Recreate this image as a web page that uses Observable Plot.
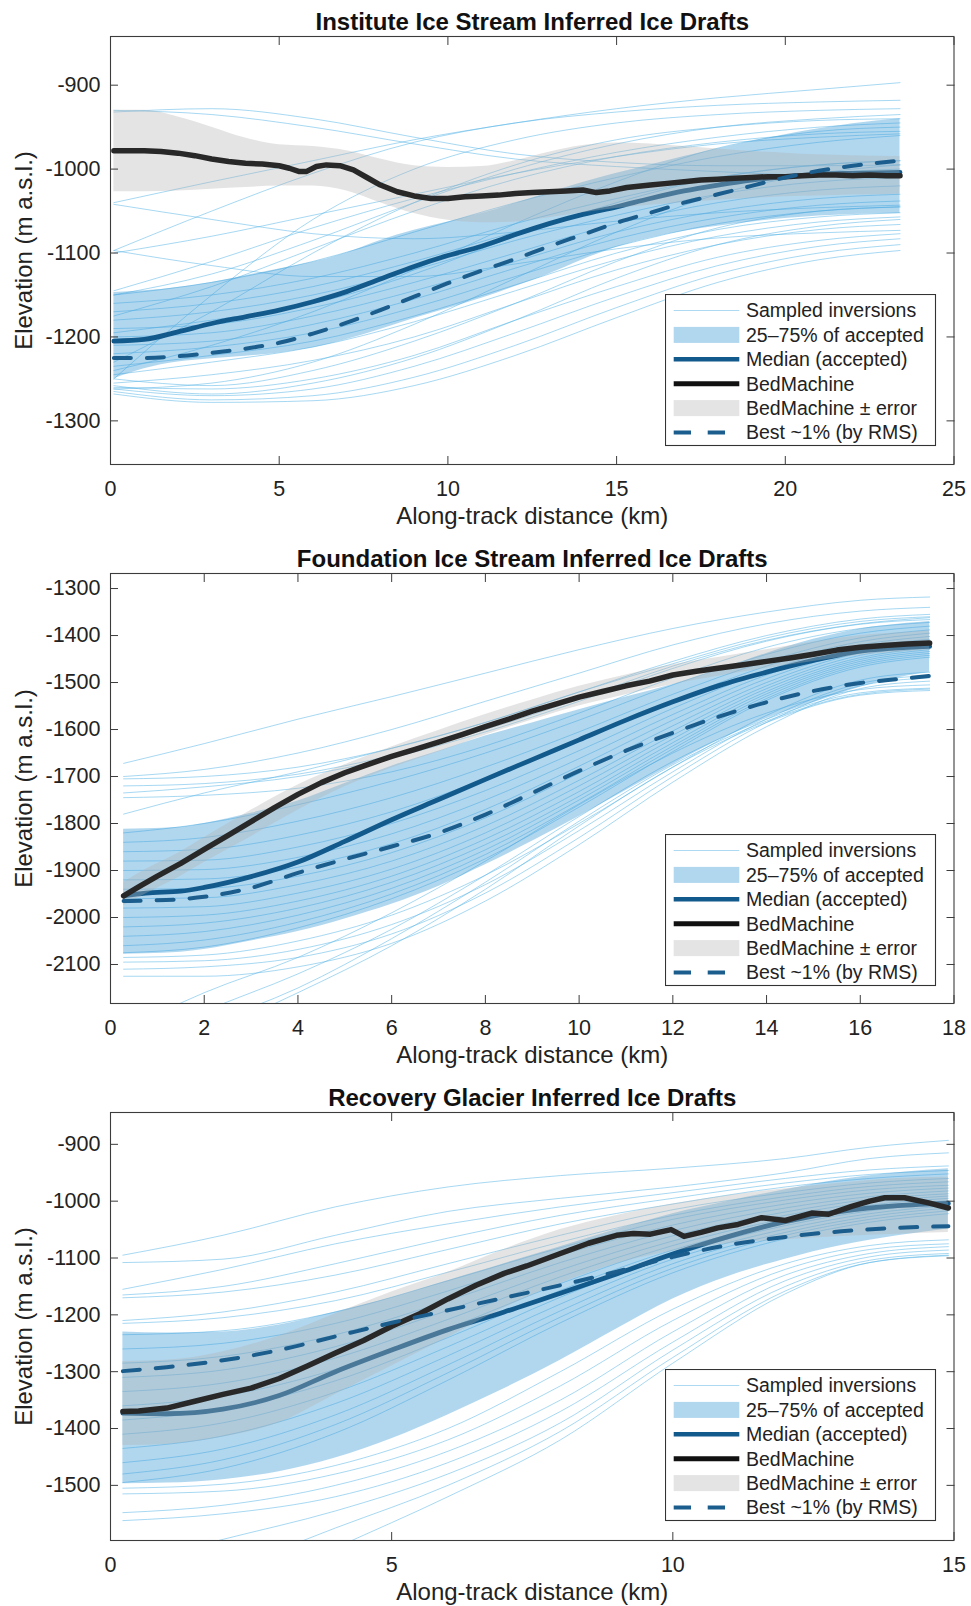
<!DOCTYPE html>
<html><head><meta charset="utf-8">
<script src="https://cdn.jsdelivr.net/npm/d3@7"></script>
<script src="https://cdn.jsdelivr.net/npm/@observablehq/plot@0.6"></script>
<style>
body{margin:0;background:#fff;}
#wrap{position:relative;width:971px;height:1606px;overflow:hidden;background:#fff;}
.panel{position:absolute;left:0;}
.legend{position:absolute;}
svg{display:block}
</style></head><body><div id="wrap"></div>
<script>
// ---------------- Shared text ----------------
const titles = ["Institute Ice Stream Inferred Ice Drafts", "Foundation Ice Stream Inferred Ice Drafts", "Recovery Glacier Inferred Ice Drafts"];
const xLabel = "Along-track distance (km)";
const yLabel = "Elevation (m a.s.l.)";
const legendLabels = ["Sampled inversions", "25\u201375% of accepted", "Median (accepted)", "BedMachine", "BedMachine \u00b1 error", "Best ~1% (by RMS)"];

// ---------------- Institute ----------------
const instXTicks = [0, 5, 10, 15, 20, 25];
const instYTicks = [-1300, -1200, -1100, -1000, -900];
const instSampleX = [0.1, 3, 6, 9, 12, 15, 18, 21, 23.4];
const instSamples = [
  [-930, -935, -950, -970, -988, -997, -1003, -1008, -1010],
  [-932, -928, -940, -962, -982, -992, -996, -996, -995],
  [-1040, -1015, -990, -965, -945, -928, -915, -905, -897],
  [-1042, -1060, -1077, -1083, -1075, -1062, -1052, -1046, -1043],
  [-1097, -1050, -1005, -968, -945, -932, -924, -920, -918],
  [-1097, -1115, -1128, -1128, -1113, -1095, -1082, -1076, -1073],
  [-1100, -1080, -1055, -1030, -1005, -985, -970, -962, -958],
  [-1250, -1150, -1060, -1000, -965, -945, -935, -930, -928],
  [-1230, -1170, -1100, -1040, -995, -965, -950, -942, -940],
  [-1145, -1110, -1070, -1035, -1005, -980, -962, -950, -945],
  [-1150, -1135, -1110, -1075, -1040, -1010, -985, -968, -960],
  [-1160, -1150, -1130, -1100, -1065, -1035, -1010, -995, -990],
  [-1170, -1160, -1140, -1110, -1075, -1045, -1020, -1005, -1000],
  [-1180, -1170, -1150, -1120, -1085, -1055, -1030, -1015, -1010],
  [-1190, -1185, -1165, -1135, -1100, -1065, -1040, -1025, -1020],
  [-1200, -1195, -1175, -1145, -1110, -1075, -1050, -1035, -1030],
  [-1210, -1205, -1185, -1155, -1118, -1083, -1058, -1043, -1038],
  [-1220, -1212, -1195, -1165, -1128, -1092, -1065, -1050, -1045],
  [-1235, -1222, -1205, -1175, -1138, -1100, -1072, -1057, -1052],
  [-1245, -1230, -1212, -1182, -1145, -1108, -1080, -1063, -1057],
  [-1255, -1245, -1228, -1200, -1160, -1120, -1090, -1072, -1066],
  [-1260, -1262, -1250, -1222, -1180, -1140, -1105, -1085, -1077],
  [-1262, -1270, -1262, -1235, -1195, -1152, -1115, -1092, -1083],
  [-1265, -1275, -1270, -1248, -1210, -1165, -1125, -1100, -1090],
  [-1268, -1278, -1276, -1258, -1222, -1177, -1135, -1108, -1097],
  [-1258, -1268, -1255, -1225, -1180, -1130, -1090, -1068, -1060],
  [-1250, -1258, -1240, -1205, -1160, -1110, -1070, -1050, -1045],
  [-1262, -1255, -1230, -1185, -1130, -1075, -1030, -1005, -995],
  [-1240, -1210, -1170, -1120, -1065, -1015, -975, -955, -950],
  [-1150, -1125, -1085, -1040, -1000, -970, -950, -940, -935],
  [-1175, -1140, -1095, -1050, -1012, -985, -968, -958, -955],
  [-1195, -1180, -1160, -1125, -1080, -1040, -1010, -995, -990]
];
const instGridX = [0.1, 1, 2, 3, 4, 5, 6, 7, 8, 9, 10, 11, 12, 13, 14, 15, 16, 17, 18, 19, 20, 21, 22, 23.4];
const instIqrHi = [-1147, -1145, -1141, -1135, -1127, -1119, -1111, -1100, -1085, -1073, -1063, -1053, -1041, -1028, -1016, -1005, -995, -985, -976, -967, -959, -952, -946, -940];
const instIqrLo = [-1250, -1238, -1230, -1226, -1223, -1219, -1213, -1203, -1191, -1178, -1166, -1154, -1140, -1125, -1108, -1093, -1082, -1074, -1068, -1063, -1059, -1056, -1054, -1053];
const instMedian = [-1205, -1203, -1194, -1184, -1176, -1168, -1158, -1146, -1131, -1116, -1103, -1092, -1078, -1065, -1054, -1045, -1035, -1026, -1019, -1013, -1009, -1006, -1005, -1004];
const instBest = [-1225, -1225, -1223, -1219, -1214, -1207, -1196, -1183, -1168, -1152, -1136, -1121, -1107, -1092, -1078, -1064, -1052, -1040, -1030, -1020, -1010, -1002, -996, -990];
const instGrayHi = [-930, -930, -938, -950, -963, -971, -973, -978, -988, -996, -998, -997, -990, -980, -972, -969, -970, -973, -976, -979, -981, -983, -984, -985];
const instGrayLo = [-1027, -1027, -1026, -1024, -1022, -1020, -1020, -1026, -1040, -1053, -1061, -1064, -1063, -1058, -1052, -1047, -1043, -1040, -1037, -1035, -1033, -1032, -1031, -1030];
const instBedX = [0.1, 0.5, 1, 1.5, 2, 2.5, 3, 3.5, 4, 4.5, 5, 5.3, 5.6, 5.8, 6.1, 6.4, 6.8, 7.2, 7.6, 8, 8.5, 9, 9.5, 10, 10.5, 11, 11.5, 12, 12.5, 13, 13.5, 14, 14.4, 14.8, 15.3, 16, 16.5, 17, 17.5, 18, 18.5, 19, 19.5, 20, 20.5, 21, 21.5, 22, 22.5, 23, 23.4];
const instBedY = [-978, -978, -978, -979, -981, -984, -988, -991, -993, -994, -996, -999, -1003, -1003, -997, -995, -996, -1001, -1010, -1019, -1027, -1032, -1035, -1035, -1033, -1032, -1031, -1029, -1028, -1027, -1026, -1025, -1028, -1026, -1022, -1019, -1017, -1015, -1013, -1012, -1011, -1010, -1009, -1009, -1008, -1007, -1007, -1008, -1007, -1008, -1008];

// ---------------- Foundation ----------------
const fndXTicks = [0, 2, 4, 6, 8, 10, 12, 14, 16, 18];
const fndYTicks = [-2100, -2000, -1900, -1800, -1700, -1600, -1500, -1400, -1300];
const fndSampleX = [0.28, 2, 4, 6, 8, 10, 12, 14, 16, 17.48];
const fndSamples = [
  [-1672, -1630, -1578, -1530, -1480, -1430, -1385, -1350, -1325, -1318],
  [-1700, -1685, -1650, -1600, -1540, -1480, -1420, -1375, -1348, -1340],
  [-1705, -1700, -1680, -1640, -1585, -1520, -1455, -1400, -1365, -1355],
  [-1720, -1715, -1695, -1655, -1600, -1535, -1465, -1410, -1375, -1362],
  [-1735, -1722, -1700, -1660, -1605, -1540, -1470, -1412, -1376, -1366],
  [-1780, -1735, -1690, -1640, -1585, -1520, -1460, -1405, -1370, -1360],
  [-1745, -1740, -1725, -1690, -1635, -1565, -1490, -1425, -1385, -1372],
  [-1820, -1800, -1760, -1710, -1650, -1580, -1505, -1440, -1395, -1380],
  [-1840, -1830, -1795, -1745, -1680, -1605, -1525, -1455, -1405, -1388],
  [-1860, -1855, -1825, -1775, -1705, -1625, -1540, -1465, -1413, -1395],
  [-1880, -1878, -1850, -1800, -1730, -1645, -1555, -1475, -1420, -1402],
  [-1900, -1898, -1872, -1822, -1750, -1662, -1568, -1484, -1426, -1408],
  [-1920, -1918, -1893, -1843, -1770, -1678, -1580, -1492, -1432, -1413],
  [-1940, -1938, -1912, -1862, -1788, -1693, -1592, -1500, -1437, -1418],
  [-1960, -1958, -1930, -1880, -1805, -1708, -1603, -1507, -1442, -1422],
  [-1980, -1977, -1948, -1897, -1820, -1720, -1612, -1513, -1447, -1426],
  [-2000, -1995, -1965, -1912, -1833, -1732, -1620, -1519, -1451, -1430],
  [-2020, -2012, -1980, -1925, -1845, -1742, -1628, -1524, -1455, -1434],
  [-2040, -2030, -1995, -1938, -1856, -1750, -1635, -1529, -1459, -1438],
  [-2060, -2048, -2010, -1950, -1866, -1758, -1641, -1534, -1463, -1442],
  [-2075, -2063, -2022, -1960, -1875, -1765, -1647, -1538, -1467, -1446],
  [-2085, -2080, -2050, -1995, -1910, -1800, -1680, -1570, -1495, -1478],
  [-2095, -2092, -2068, -2015, -1930, -1815, -1690, -1578, -1502, -1485],
  [-2110, -2105, -2085, -2035, -1948, -1830, -1700, -1585, -1507, -1490],
  [-2125, -2125, -2105, -2055, -1965, -1845, -1712, -1594, -1513, -1497],
  [-2240, -2160, -2085, -1990, -1880, -1760, -1650, -1565, -1515, -1505],
  [-2280, -2200, -2120, -2025, -1910, -1785, -1668, -1578, -1522, -1512],
  [-2320, -2250, -2160, -2060, -1940, -1805, -1680, -1585, -1527, -1517],
  [-2300, -2230, -2150, -2045, -1925, -1795, -1675, -1582, -1525, -1514]
];
const fndGridX = [0.28, 0.75, 1.5, 2, 3, 4, 5, 6, 7, 8, 9, 10, 11, 12, 13, 14, 15, 16, 17, 17.48];
const fndIqrHi = [-1812, -1811, -1808, -1800, -1778, -1752, -1715, -1678, -1646, -1614, -1586, -1558, -1531, -1504, -1473, -1438, -1408, -1386, -1374, -1370];
const fndIqrLo = [-2078, -2077, -2074, -2068, -2050, -2030, -2003, -1972, -1934, -1888, -1838, -1785, -1730, -1675, -1622, -1577, -1543, -1510, -1486, -1478];
const fndMedian = [-1954, -1948, -1944, -1936, -1913, -1882, -1838, -1792, -1749, -1706, -1664, -1622, -1580, -1541, -1506, -1478, -1453, -1433, -1425, -1423];
const fndBest = [-1965, -1964, -1961, -1956, -1937, -1905, -1876, -1849, -1820, -1781, -1735, -1688, -1645, -1607, -1572, -1542, -1518, -1501, -1491, -1486];
const fndGrayHi = [-1925, -1898, -1860, -1830, -1772, -1718, -1675, -1637, -1602, -1568, -1537, -1508, -1484, -1462, -1446, -1430, -1414, -1400, -1393, -1390];
const fndGrayLo = [-1975, -1950, -1912, -1883, -1828, -1772, -1722, -1682, -1648, -1612, -1580, -1550, -1526, -1504, -1486, -1470, -1455, -1442, -1434, -1431];
const fndBedX = [0.28, 0.6, 1, 1.5, 2, 2.5, 3, 3.5, 4, 4.5, 5, 5.5, 6, 6.5, 7, 7.5, 8, 8.5, 9, 9.5, 10, 10.5, 11, 11.5, 12, 12.5, 13, 13.5, 14, 14.5, 15, 15.5, 16, 16.5, 17, 17.48];
const fndBedY = [-1954, -1935, -1912, -1885, -1855, -1826, -1796, -1766, -1738, -1713, -1692, -1674, -1657, -1642, -1627, -1611, -1594, -1578, -1561, -1546, -1531, -1519, -1507, -1497, -1484, -1476, -1469, -1462, -1455, -1448, -1440, -1431, -1425, -1421, -1418, -1416];

// ---------------- Recovery ----------------
const recXTicks = [0, 5, 10, 15];
const recYTicks = [-1500, -1400, -1300, -1200, -1100, -1000, -900];
const recSampleX = [0.22, 2, 4, 6, 8, 10, 12, 13.5, 14.9];
const recSamples = [
  [-1095, -1060, -1010, -975, -955, -942, -925, -905, -893],
  [-1108, -1102, -1060, -1018, -995, -975, -950, -925, -915],
  [-1155, -1120, -1075, -1040, -1010, -985, -960, -945, -938],
  [-1165, -1150, -1110, -1065, -1025, -995, -968, -953, -946],
  [-1170, -1160, -1130, -1085, -1040, -1005, -975, -960, -952],
  [-1210, -1195, -1160, -1110, -1060, -1015, -985, -968, -960],
  [-1215, -1205, -1175, -1125, -1072, -1025, -992, -974, -966],
  [-1235, -1228, -1195, -1140, -1082, -1032, -998, -980, -972],
  [-1260, -1250, -1215, -1158, -1095, -1042, -1005, -986, -977],
  [-1285, -1273, -1235, -1175, -1108, -1052, -1012, -992, -982],
  [-1310, -1297, -1256, -1192, -1121, -1061, -1019, -997, -987],
  [-1335, -1320, -1276, -1208, -1133, -1070, -1025, -1002, -991],
  [-1360, -1343, -1296, -1224, -1145, -1078, -1031, -1007, -995],
  [-1385, -1366, -1316, -1240, -1157, -1086, -1037, -1012, -999],
  [-1410, -1390, -1336, -1256, -1169, -1094, -1043, -1017, -1003],
  [-1435, -1413, -1356, -1272, -1181, -1102, -1049, -1022, -1008],
  [-1460, -1436, -1376, -1288, -1193, -1110, -1055, -1027, -1012],
  [-1480, -1455, -1393, -1302, -1204, -1118, -1060, -1032, -1017],
  [-1495, -1470, -1408, -1315, -1214, -1126, -1066, -1037, -1022],
  [-1505, -1498, -1465, -1400, -1300, -1190, -1110, -1078, -1068],
  [-1515, -1510, -1480, -1420, -1325, -1210, -1120, -1085, -1075],
  [-1548, -1535, -1500, -1440, -1350, -1230, -1130, -1092, -1080],
  [-1562, -1550, -1520, -1460, -1370, -1248, -1140, -1098, -1086],
  [-1640, -1595, -1545, -1480, -1390, -1262, -1150, -1104, -1092],
  [-1700, -1650, -1575, -1500, -1405, -1275, -1158, -1108, -1096],
  [-1770, -1700, -1610, -1520, -1420, -1285, -1163, -1108, -1095]
];
const recGridX = [0.22, 1, 2, 3, 4, 5, 6, 7, 8, 9, 10, 11, 12, 13, 14, 14.9];
const recIqrHi = [-1230, -1232, -1230, -1218, -1195, -1170, -1140, -1110, -1080, -1050, -1022, -1000, -980, -962, -950, -943];
const recIqrLo = [-1497, -1496, -1490, -1476, -1452, -1418, -1376, -1330, -1280, -1225, -1172, -1132, -1102, -1078, -1061, -1049];
const recMedian = [-1373, -1374, -1366, -1342, -1300, -1262, -1226, -1195, -1162, -1128, -1093, -1062, -1036, -1018, -1008, -1004];
const recBest = [-1299, -1292, -1280, -1262, -1238, -1214, -1192, -1170, -1148, -1124, -1098, -1077, -1063, -1053, -1047, -1044];
const recGrayHi = [-1282, -1280, -1265, -1237, -1198, -1160, -1125, -1085, -1050, -1025, -1005, -990, -978, -968, -960, -958];
const recGrayLo = [-1430, -1428, -1415, -1390, -1340, -1290, -1240, -1188, -1145, -1110, -1088, -1075, -1068, -1062, -1058, -1055];
const recBedX = [0.22, 0.5, 1, 1.5, 2, 2.5, 3, 3.5, 4, 4.5, 5, 5.5, 6, 6.5, 7, 7.4, 8, 8.5, 9, 9.3, 9.6, 9.97, 10.2, 10.5, 10.8, 11.16, 11.58, 12, 12.47, 12.77, 13.18, 13.5, 13.77, 14.12, 14.55, 14.9];
const recBedY = [-1370, -1369, -1364, -1352, -1340, -1329, -1312, -1290, -1267, -1245, -1220, -1198, -1172, -1148, -1127, -1114, -1092, -1074, -1060, -1057, -1058, -1050, -1062, -1055, -1047, -1041, -1029, -1034, -1021, -1023, -1009, -1000, -994, -994, -1003, -1012];

// ---------------- Styling ----------------
const FONT = "'Liberation Sans', Arial, Helvetica, sans-serif";
const C = {sample: "#5bb6e6", iqr: "#3d9ad6", med: "#135a8c", gray: "#b3b3b3", bed: "#282828", best: "#1b5e8e", axis: "#3c3c3c", text: "#222"};

function panel(o) {
  const sampleRows = o.samples.flatMap((s, k) => s.map((y, i) => ({k, x: o.sampleX[i], y})));
  const grid = o.gridX.map((x, i) => ({x, iqrLo: o.iqrLo[i], iqrHi: o.iqrHi[i], med: o.median[i], best: o.best[i], grayLo: o.grayLo[i], grayHi: o.grayHi[i]}));
  const bed = o.bedX.map((x, i) => ({x, y: o.bedY[i]}));
  const fmt = d => String(d);
  return Plot.plot({
    width: 971, height: o.height,
    marginLeft: 110, marginRight: 17.5, marginTop: o.marginTop, marginBottom: o.marginBottom,
    style: {fontFamily: FONT, fontSize: "21.5px", color: C.text, background: "white", overflow: "visible"},
    x: {domain: o.xDomain},
    y: {domain: o.yDomain},
    marks: [
      Plot.line(sampleRows, {x: "x", y: "y", z: "k", stroke: C.sample, strokeWidth: 0.9, strokeOpacity: 0.6, curve: "monotone-x", clip: true}),
      Plot.areaY(grid, {x: "x", y1: "iqrLo", y2: "iqrHi", fill: C.iqr, fillOpacity: 0.4, curve: "monotone-x", clip: true}),
      Plot.line(grid, {x: "x", y: "med", stroke: C.med, strokeWidth: 4.8, curve: "monotone-x", clip: true}),
      Plot.areaY(grid, {x: "x", y1: "grayLo", y2: "grayHi", fill: C.gray, fillOpacity: 0.35, curve: "monotone-x", clip: true}),
      Plot.line(bed, {x: "x", y: "y", stroke: C.bed, strokeWidth: 5.5, strokeLinejoin: "round", clip: true}),
      Plot.line(grid, {x: "x", y: "best", stroke: C.best, strokeWidth: 4, strokeDasharray: "17,16", curve: "monotone-x", clip: true}),
      Plot.frame({stroke: C.axis, strokeWidth: 1.1}),
      Plot.axisX({anchor: "bottom", ticks: o.xTicks, tickSize: -8, tickPadding: 24, tickFormat: fmt, label: null, stroke: C.axis, fontSize: 21.5}),
      Plot.axisX({anchor: "top", ticks: o.xTicks, tickSize: -8, tickFormat: () => "", label: null, stroke: C.axis}),
      Plot.axisY({anchor: "left", ticks: o.yTicks, tickSize: -8, tickPadding: 18, tickFormat: fmt, label: null, stroke: C.axis, fontSize: 21.5}),
      Plot.axisY({anchor: "right", ticks: o.yTicks, tickSize: -8, tickFormat: () => "", label: null, stroke: C.axis}),
      Plot.text([o.title], {text: d => d, frameAnchor: "top", dy: -14, fontWeight: "bold", fontSize: 24, lineAnchor: "middle", textAnchor: "middle", fill: "#111"}),
      Plot.text([xLabel], {text: d => d, frameAnchor: "bottom", dy: 52, fontSize: 24, lineAnchor: "middle", textAnchor: "middle", fill: C.text}),
      Plot.text([yLabel], {text: d => d, frameAnchor: "left", dx: -86, rotate: -90, fontSize: 24, lineAnchor: "middle", textAnchor: "middle", fill: C.text})
    ]
  });
}

function legend(top) {
  const div = d3.select("#wrap").append("div").attr("class", "legend").style("left", "665px").style("top", top + "px");
  const svg = div.append("svg").attr("width", 272).attr("height", 153);
  svg.append("rect").attr("x", 0.5).attr("y", 0.5).attr("width", 270).attr("height", 151).attr("fill", "white").attr("stroke", "#333").attr("stroke-width", 1.1);
  const rowY = i => 16.5 + i * 24.4;
  const x1 = 8.7, x2 = 74.3;
  svg.append("line").attr("x1", x1).attr("x2", x2).attr("y1", rowY(0)).attr("y2", rowY(0)).attr("stroke", C.sample).attr("stroke-opacity", 0.5).attr("stroke-width", 1);
  svg.append("rect").attr("x", x1).attr("y", rowY(1) - 8).attr("width", x2 - x1).attr("height", 16).attr("fill", C.iqr).attr("fill-opacity", 0.4);
  svg.append("line").attr("x1", x1).attr("x2", x2).attr("y1", rowY(2)).attr("y2", rowY(2)).attr("stroke", C.med).attr("stroke-width", 4.5);
  svg.append("line").attr("x1", x1).attr("x2", x2).attr("y1", rowY(3)).attr("y2", rowY(3)).attr("stroke", "#111").attr("stroke-width", 5);
  svg.append("rect").attr("x", x1).attr("y", rowY(4) - 8).attr("width", x2 - x1).attr("height", 16).attr("fill", C.gray).attr("fill-opacity", 0.35);
  svg.append("line").attr("x1", x1).attr("x2", x2).attr("y1", rowY(5)).attr("y2", rowY(5)).attr("stroke", C.best).attr("stroke-width", 4).attr("stroke-dasharray", "17.3,16.7");
  legendLabels.forEach((t, i) => {
    svg.append("text").attr("x", 81).attr("y", rowY(i)).attr("dy", "0.35em").attr("font-family", FONT).attr("font-size", 19.5).attr("fill", C.text).text(t);
  });
}

const wrap = document.getElementById("wrap");
const panels = [
  {top: 0, title: titles[0], height: 537, marginTop: 36, marginBottom: 73, xDomain: [0, 25], yDomain: [-1352, -842], xTicks: instXTicks, yTicks: instYTicks,
   sampleX: instSampleX, samples: instSamples, gridX: instGridX, iqrLo: instIqrLo, iqrHi: instIqrHi, median: instMedian, best: instBest, grayLo: instGrayLo, grayHi: instGrayHi, bedX: instBedX, bedY: instBedY, legendTop: 294},
  {top: 537, title: titles[1], height: 538, marginTop: 36, marginBottom: 72, xDomain: [0, 18], yDomain: [-2183, -1268], xTicks: fndXTicks, yTicks: fndYTicks,
   sampleX: fndSampleX, samples: fndSamples, gridX: fndGridX, iqrLo: fndIqrLo, iqrHi: fndIqrHi, median: fndMedian, best: fndBest, grayLo: fndGrayLo, grayHi: fndGrayHi, bedX: fndBedX, bedY: fndBedY, legendTop: 834},
  {top: 1075, title: titles[2], height: 531, marginTop: 37, marginBottom: 66, xDomain: [0, 15], yDomain: [-1597, -844], xTicks: recXTicks, yTicks: recYTicks,
   sampleX: recSampleX, samples: recSamples, gridX: recGridX, iqrLo: recIqrLo, iqrHi: recIqrHi, median: recMedian, best: recBest, grayLo: recGrayLo, grayHi: recGrayHi, bedX: recBedX, bedY: recBedY, legendTop: 1369}
];
panels.forEach(p => {
  const d = document.createElement("div");
  d.className = "panel";
  d.style.top = p.top + "px";
  d.appendChild(panel(p));
  wrap.appendChild(d);
});
panels.forEach(p => legend(p.legendTop));
</script></body></html>
